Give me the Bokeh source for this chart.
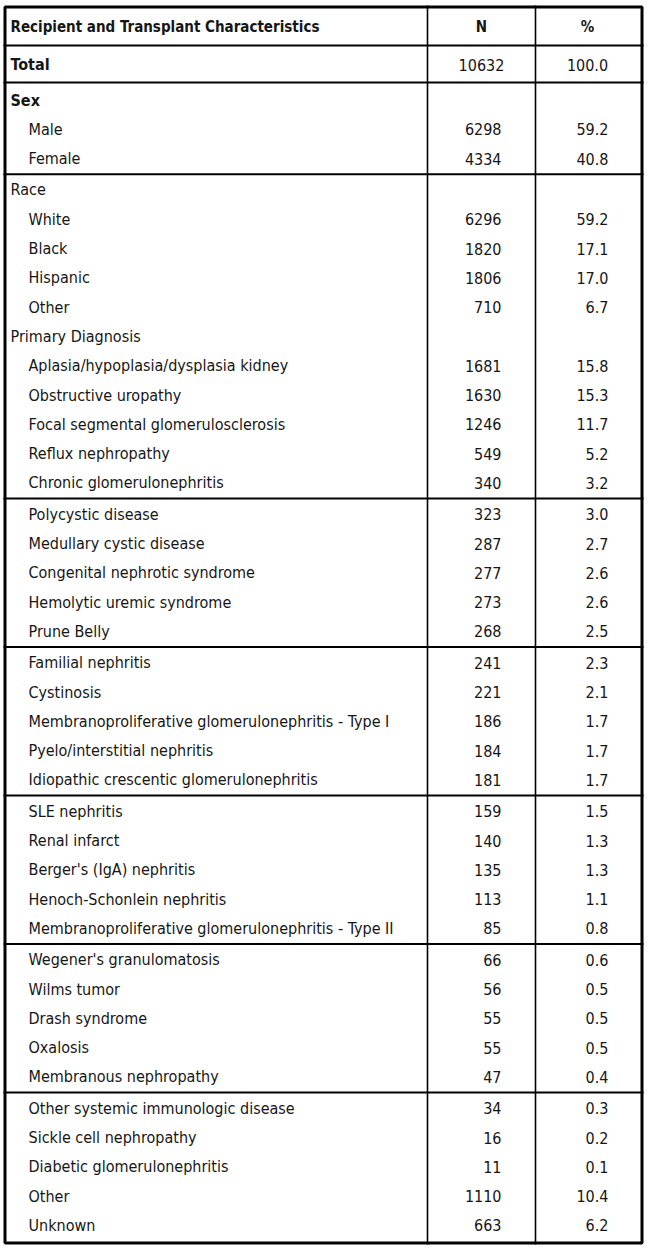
from bokeh.plotting import figure
from bokeh.models import Range1d, ColumnDataSource
from bokeh.core.properties import value
from bokeh.embed import file_html
from bokeh.resources import INLINE

header = ["Recipient and Transplant Characteristics", "N", "%"]
total_label = "Total"
total_n = "10632"
total_pct = "100.0"

labels = ["Sex", "Male", "Female",
          "Race", "White", "Black", "Hispanic", "Other",
          "Primary Diagnosis",
          "Aplasia/hypoplasia/dysplasia kidney", "Obstructive uropathy",
          "Focal segmental glomerulosclerosis", "Reflux nephropathy",
          "Chronic glomerulonephritis",
          "Polycystic disease", "Medullary cystic disease",
          "Congenital nephrotic syndrome", "Hemolytic uremic syndrome", "Prune Belly",
          "Familial nephritis", "Cystinosis",
          "Membranoproliferative glomerulonephritis - Type I",
          "Pyelo/interstitial nephritis", "Idiopathic crescentic glomerulonephritis",
          "SLE nephritis", "Renal infarct", "Berger's (IgA) nephritis",
          "Henoch-Schonlein nephritis",
          "Membranoproliferative glomerulonephritis - Type II",
          "Wegener's granulomatosis", "Wilms tumor", "Drash syndrome", "Oxalosis",
          "Membranous nephropathy",
          "Other systemic immunologic disease", "Sickle cell nephropathy",
          "Diabetic glomerulonephritis", "Other", "Unknown"]
n_values = ["", "6298", "4334",
            "", "6296", "1820", "1806", "710",
            "",
            "1681", "1630", "1246", "549", "340",
            "323", "287", "277", "273", "268",
            "241", "221", "186", "184", "181",
            "159", "140", "135", "113", "85",
            "66", "56", "55", "55", "47",
            "34", "16", "11", "1110", "663"]
pct_values = ["", "59.2", "40.8",
              "", "59.2", "17.1", "17.0", "6.7",
              "",
              "15.8", "15.3", "11.7", "5.2", "3.2",
              "3.0", "2.7", "2.6", "2.6", "2.5",
              "2.3", "2.1", "1.7", "1.7", "1.7",
              "1.5", "1.3", "1.3", "1.1", "0.8",
              "0.6", "0.5", "0.5", "0.5", "0.4",
              "0.3", "0.2", "0.1", "10.4", "6.2"]
is_heading = [True, False, False,
              True, False, False, False, False,
              True] + [False] * 30
bold_heading = ["Sex"]
separator_after = ["Female", "Chronic glomerulonephritis", "Prune Belly",
                   "Idiopathic crescentic glomerulonephritis",
                   "Membranoproliferative glomerulonephritis - Type II",
                   "Membranous nephropathy"]

# ---- layout (page pixel coordinates) ----
W, H = 645, 1246
X0, X1 = 3, 643
Y0, Y1 = 5, 1244
COL1, COL2 = 427, 535
HEADER_Y, HEADER_LINE = 26, 45
TOTAL_Y, TOTAL_LINE = 64, 82
FIRST_Y, STEP, BUMP = 99.5, 29.3, 2.0

ys = []
extra = 0.0
for i, lab in enumerate(labels):
    ys.append(FIRST_Y + i * STEP + extra)
    if lab in separator_after and i < len(labels) - 1:
        extra += BUMP

sep_ys = []
for i, lab in enumerate(labels):
    if lab in separator_after and i < len(labels) - 1:
        sep_ys.append((ys[i] + ys[i + 1]) / 2)

FONT = value("'DejaVu Sans Condensed', sans-serif")
SIZE = "16px"
HSIZE = "15px"
COLOR = "#161616"

p = figure(width=W, height=H, x_range=Range1d(0, W), y_range=Range1d(H, 0),
           output_backend="svg", toolbar_location=None, min_border=0)
p.axis.visible = False
p.grid.visible = False
p.outline_line_color = None
p.background_fill_color = "white"
p.border_fill_color = "white"

# inner horizontal lines
h_ys = [HEADER_LINE, TOTAL_LINE] + sep_ys
p.segment(x0=[X0] * len(h_ys), x1=[X1] * len(h_ys), y0=h_ys, y1=h_ys,
          line_color="black", line_width=2)
# column dividers
p.segment(x0=[COL1, COL2], x1=[COL1, COL2], y0=[Y0, Y0], y1=[Y1, Y1],
          line_color="black", line_width=1.6)
# outer border
p.quad(left=[X0 + 1.5], right=[X1 - 1.5], top=[Y0 + 1.5], bottom=[Y1 - 1.5],
       fill_color=None, line_color="black", line_width=3)

# header row
p.text(x=[10], y=[HEADER_Y], text=[header[0]], text_font=FONT, text_font_size=HSIZE,
       text_font_style="bold", text_baseline="middle", text_align="left", text_color=COLOR)
p.text(x=[(COL1 + COL2) / 2, (COL2 + 639) / 2], y=[HEADER_Y, HEADER_Y], text=header[1:],
       text_font=FONT, text_font_size=HSIZE, text_font_style="bold",
       text_baseline="middle", text_align="center", text_color=COLOR)
# total row
p.text(x=[10], y=[TOTAL_Y], text=[total_label], text_font=FONT, text_font_size=SIZE,
       text_font_style="bold", text_baseline="middle", text_align="left", text_color=COLOR)
p.text(x=[(COL1 + COL2) / 2, (COL2 + 639) / 2], y=[TOTAL_Y, TOTAL_Y], text=[total_n, total_pct],
       text_font=FONT, text_font_size=SIZE, text_baseline="middle", text_align="center",
       text_color=COLOR)

# body rows
lab_x = [10 if h else 28 for h in is_heading]
styles = ["bold" if lab in bold_heading else "normal" for lab in labels]
src = ColumnDataSource(dict(x=lab_x, y=ys, text=labels, style=styles))
p.text(x="x", y="y", text="text", source=src, text_font=FONT, text_font_size=SIZE,
       text_font_style="style", text_baseline="middle", text_align="left", text_color=COLOR)
p.text(x=[501] * len(ys), y=ys, text=n_values, text_font=FONT, text_font_size=SIZE,
       text_baseline="middle", text_align="right", text_color=COLOR)
p.text(x=[608] * len(ys), y=ys, text=pct_values, text_font=FONT, text_font_size=SIZE,
       text_baseline="middle", text_align="right", text_color=COLOR)

open("out.html", "w").write(file_html(p, INLINE))
